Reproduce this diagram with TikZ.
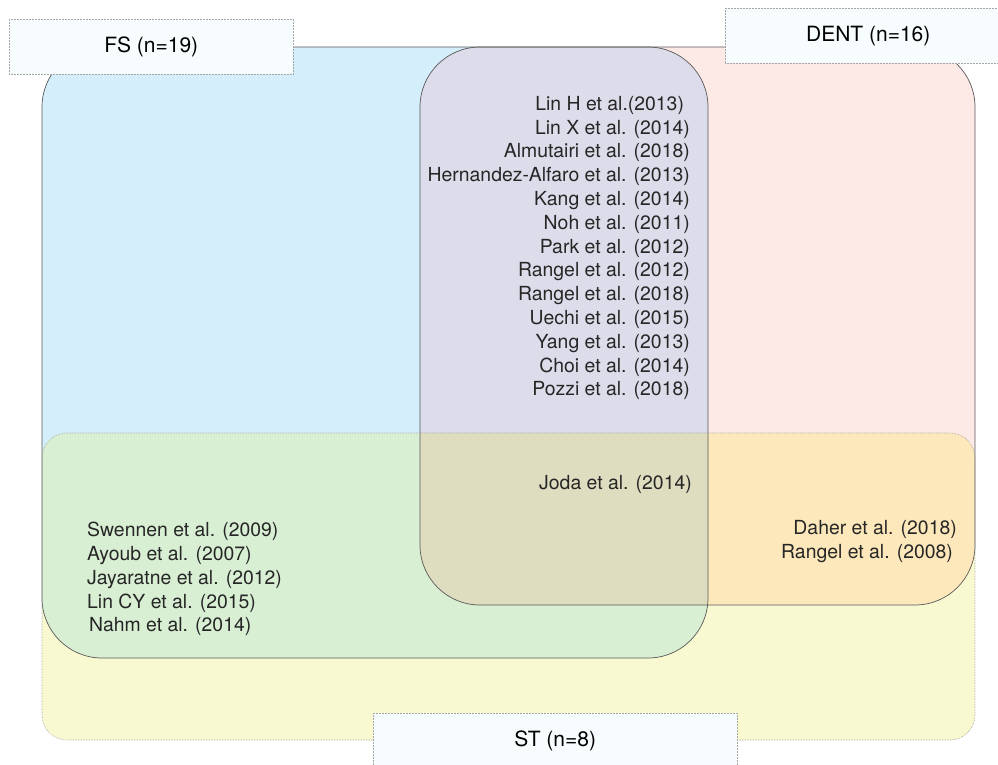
\documentclass[tikz,border=0pt]{standalone}
\usepackage{fontspec}
\setmainfont{TeX Gyre Heros}
\usepackage{xcolor}
\usetikzlibrary{positioning}

\definecolor{fsblue}{RGB}{212,238,251}
\definecolor{dentpink}{RGB}{253,233,230}
\definecolor{fsdent}{RGB}{220,220,234}
\definecolor{styellow}{RGB}{248,249,208}
\definecolor{fsst}{RGB}{217,239,212}
\definecolor{dentst}{RGB}{253,232,187}
\definecolor{allthree}{RGB}{222,221,191}
\definecolor{tagfill}{RGB}{247,253,254}

\begin{document}
\begin{tikzpicture}[
    x=1pt, y=-1pt,
    setline/.style={draw=black!65, line width=0.7pt},
    stline/.style={draw=black!40, line width=0.6pt, densely dotted},
    tagbox/.style={draw=black!35, densely dotted, line width=0.5pt, fill=tagfill, minimum height=55pt, inner sep=0pt, anchor=north west, font=\fontsize{21}{24}\selectfont},
    study/.style={inner sep=0pt, text=black!85, font=\fontsize{19.4}{23.8}\selectfont},
]
    \useasboundingbox (0,0) rectangle (998,764);
    \clip (0,0) rectangle (998,764);
    % set outlines
    \def\fsset{[rounded corners=60pt] (42,47) rectangle (708,658)}
    \def\dentset{[rounded corners=60pt] (420,47) rectangle (975,605)}
    \def\stset{[rounded corners=25pt] (42,433) rectangle (975,740)}
    % FS and DENT
    \fill[fsblue] \fsset;
    \fill[dentpink] \dentset;
    \begin{scope}
        \clip \fsset;
        \fill[fsdent] \dentset;
    \end{scope}
    % ST and its overlaps
    \fill[styellow] \stset;
    \begin{scope}
        \clip \fsset;
        \fill[fsst] \stset;
    \end{scope}
    \begin{scope}
        \clip \dentset;
        \fill[dentst] \stset;
    \end{scope}
    \begin{scope}
        \clip \fsset;
        \clip \dentset;
        \fill[allthree] \stset;
    \end{scope}
    \draw[setline] \fsset;
    \draw[setline] \dentset;
    \draw[stline] \stset;
    % labels of the sets
    \node[tagbox, minimum width=284pt] (fstag) at (9,19) {FS (n=19)};
    \node[tagbox, minimum width=286pt] (denttag) at (725,8) {DENT (n=16)};
    \node[tagbox, minimum width=364pt] (sttag) at (373,713) {ST (n=8)};
    % studies
    \node[study, align=right, anchor=north east] (fsdentlist) at (690,96) {
        Lin H et al.(2013)\hspace*{0.3em}\\
        Lin X et al. (2014)\\
        Almutairi et al. (2018)\\
        Hernandez-Alfaro et al. (2013)\\
        Kang et al. (2014)\\
        Noh et al. (2011)\\
        Park et al. (2012)\\
        Rangel et al. (2012)\\
        Rangel et al. (2018)\\
        Uechi et al. (2015)\\
        Yang et al. (2013)\\
        Choi et al. (2014)\\
        Pozzi et al. (2018)
    };
    \node[study, anchor=north east] (alllist) at (692,475) {Joda et al. (2014)};
    \node[study, align=right, anchor=north east] (dentstlist) at (957,520) {
        Daher et al. (2018)\\
        Rangel et al. (2008)\hspace*{0.2em}
    };
    \node[study, align=left, anchor=north west] (fsstlist) at (87,522) {
        Swennen et al. (2009)\\
        Ayoub et al. (2007)\\
        Jayaratne et al. (2012)\\
        Lin CY et al. (2015)\\
        \hspace*{0.1em}Nahm et al. (2014)
    };
\end{tikzpicture}
\end{document}
